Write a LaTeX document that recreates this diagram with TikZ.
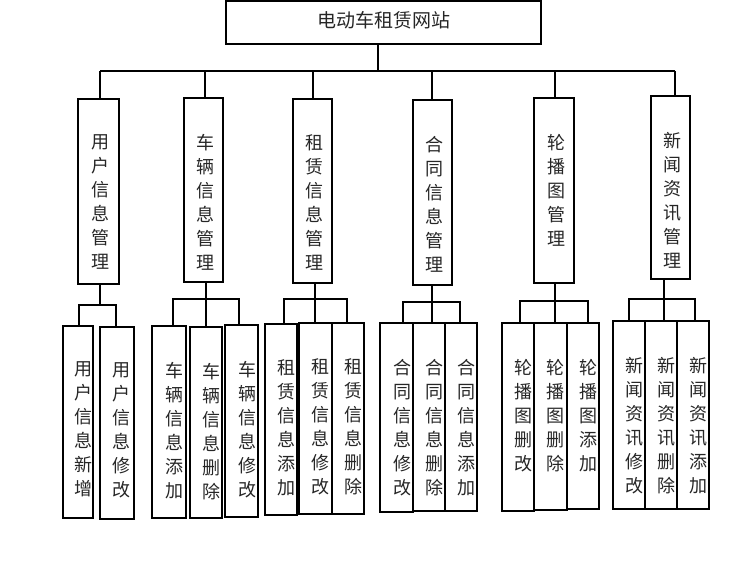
\documentclass[tikz,border=0pt]{standalone}
\usepackage{fontspec}
\setmainfont{Noto Sans CJK SC}
\newcommand\mkbox[5]{\node[box, minimum width=#4pt, minimum height=#5pt] (#1) at (#2,#3) {};}
\newcommand\mktxt[3]{\node[vtxt, anchor=north] (#1t) at ([xshift=#2pt,yshift=-36pt]#1.north) {#3};}
\begin{document}
\begin{tikzpicture}[x=1pt,y=-1pt,line width=1.3pt,
  box/.style={draw, inner sep=0pt},
  vtxt/.style={inner sep=0pt, align=center, font=\fontsize{18}{24}\selectfont, text=black!85},
  link/.style={draw, line width=1.3pt}]
\useasboundingbox (0,0) rectangle (750,572);
% top
\node[box, minimum width=315pt, minimum height=43pt] (T) at (383.5,22.5) {};
\node[inner sep=0pt, font=\fontsize{19}{22}\selectfont, text=black!85] (Tt) at ([yshift=2pt]T.center) {电动车租赁网站};
% level 2
\mkbox{A}{98.5}{191.5}{41}{185}
\mkbox{B}{203.5}{190}{39}{184}
\mkbox{C}{312.5}{191}{39}{184}
\mkbox{D}{432.5}{192.5}{39}{185}
\mkbox{E}{554}{190.5}{40}{185}
\mkbox{F}{670.5}{187.5}{39}{183}
\mktxt{A}{1.5}{用\\户\\信\\息\\管\\理}
\mktxt{B}{1.5}{车\\辆\\信\\息\\管\\理}
\mktxt{C}{1.5}{租\\赁\\信\\息\\管\\理}
\mktxt{D}{1.5}{合\\同\\信\\息\\管\\理}
\mktxt{E}{2}{轮\\播\\图\\管\\理}
\mktxt{F}{2}{新\\闻\\资\\讯\\管\\理}
% level 3
\mkbox{A1}{78}{422}{30}{192}
\mkbox{A2}{117}{423}{34}{192}
\mkbox{B1}{169}{422}{34}{192}
\mkbox{B2}{206}{422.5}{32}{191}
\mkbox{B3}{241.5}{421}{33}{192}
\mkbox{C1}{281}{419.5}{32}{191}
\mkbox{C2}{315.5}{418.5}{33}{191}
\mkbox{C3}{348}{418.5}{32}{191}
\mkbox{D1}{396.5}{417.5}{33}{189}
\mkbox{D2}{429}{417}{32}{188}
\mkbox{D3}{461}{417}{32}{188}
\mkbox{E1}{518}{417}{32}{188}
\mkbox{E2}{550.5}{416.5}{33}{187}
\mkbox{E3}{583}{416}{32}{186}
\mkbox{F1}{629}{415}{32}{188}
\mkbox{F2}{661}{415}{32}{188}
\mkbox{F3}{693}{415}{32}{188}
\mktxt{A1}{5.5}{用\\户\\信\\息\\新\\增}
\mktxt{A2}{4.5}{用\\户\\信\\息\\修\\改}
\mktxt{B1}{5.5}{车\\辆\\信\\息\\添\\加}
\mktxt{B2}{5.5}{车\\辆\\信\\息\\删\\除}
\mktxt{B3}{5.5}{车\\辆\\信\\息\\修\\改}
\mktxt{C1}{5.5}{租\\赁\\信\\息\\添\\加}
\mktxt{C2}{5}{租\\赁\\信\\息\\修\\改}
\mktxt{C3}{5}{租\\赁\\信\\息\\删\\除}
\mktxt{D1}{5.5}{合\\同\\信\\息\\修\\改}
\mktxt{D2}{5.5}{合\\同\\信\\息\\删\\除}
\mktxt{D3}{5.5}{合\\同\\信\\息\\添\\加}
\mktxt{E1}{5}{轮\\播\\图\\删\\改}
\mktxt{E2}{5}{轮\\播\\图\\删\\除}
\mktxt{E3}{5}{轮\\播\\图\\添\\加}
\mktxt{F1}{5.5}{新\\闻\\资\\讯\\修\\改}
\mktxt{F2}{5.5}{新\\闻\\资\\讯\\删\\除}
\mktxt{F3}{5.5}{新\\闻\\资\\讯\\添\\加}
% bus
\coordinate (b1) at (100,71);
\coordinate (b2) at (205,71);
\coordinate (b3) at (313,71);
\coordinate (b4) at (432,71);
\coordinate (b5) at (555,71);
\coordinate (b6) at (675,71);
\coordinate (bt) at (378,71);
\draw[link] (b1) -- (b6);
\draw[link] (T.south -| bt) -- (bt);
\draw[link] (b1) -- (A.north -| b1);
\draw[link] (b2) -- (B.north -| b2);
\draw[link] (b3) -- (C.north -| b3);
\draw[link] (b4) -- (D.north -| b4);
\draw[link] (b5) -- (E.north -| b5);
\draw[link] (b6) -- (F.north -| b6);
% group A
\coordinate (ga) at (100,305);
\coordinate (ga1) at (79,305);
\coordinate (ga2) at (116,305);
\draw[link] (A.south -| ga) -- (ga);
\draw[link] (A1.north -| ga1) -- (ga1) -- (ga2) -- (A2.north -| ga2);
% group B
\coordinate (gb) at (206,299);
\coordinate (gb1) at (173,299);
\coordinate (gb3) at (239,299);
\draw[link] (B.south -| gb) -- (B2.north -| gb);
\draw[link] (B1.north -| gb1) -- (gb1) -- (gb3) -- (B3.north -| gb3);
% group C
\coordinate (gc) at (315,299);
\coordinate (gc1) at (284,299);
\coordinate (gc3) at (347,299);
\draw[link] (C.south -| gc) -- (C2.north -| gc);
\draw[link] (C1.north -| gc1) -- (gc1) -- (gc3) -- (C3.north -| gc3);
% group D
\coordinate (gd) at (432,302);
\coordinate (gd1) at (403,302);
\coordinate (gd3) at (460,302);
\draw[link] (D.south -| gd) -- (D2.north -| gd);
\draw[link] (D1.north -| gd1) -- (gd1) -- (gd3) -- (D3.north -| gd3);
% group E
\coordinate (ge) at (555,301);
\coordinate (ge1) at (520,301);
\coordinate (ge3) at (588,301);
\draw[link] (E.south -| ge) -- (E2.north -| ge);
\draw[link] (E1.north -| ge1) -- (ge1) -- (ge3) -- (E3.north -| ge3);
% group F
\coordinate (gf) at (664,299);
\coordinate (gf1) at (629,299);
\coordinate (gf3) at (695,299);
\draw[link] (F.south -| gf) -- (F2.north -| gf);
\draw[link] (F1.north -| gf1) -- (gf1) -- (gf3) -- (F3.north -| gf3);
\end{tikzpicture}
\end{document}
